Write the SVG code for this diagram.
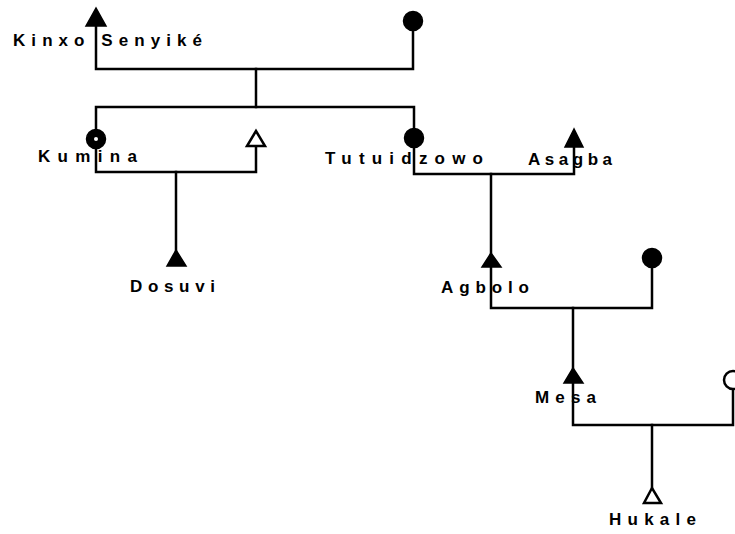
<svg xmlns="http://www.w3.org/2000/svg" width="735" height="534" viewBox="0 0 735 534">
<style>
.ln{fill:none;stroke:#000;stroke-width:2.5;stroke-linejoin:miter;stroke-linecap:square}
.f{fill:#000;stroke:#000;stroke-width:1.5}
.o{fill:#fff;stroke:#000;stroke-width:2.5}
.t{font-family:"Liberation Sans",Arial,sans-serif;font-weight:bold;font-size:17px;fill:#000}
</style>
<rect width="735" height="534" fill="#fff"/>
<g id="connectors">
<polyline class="ln" points="96,26 96,69 413,69 413,31"/>
<line class="ln" x1="256" y1="69" x2="256" y2="107"/>
<polyline class="ln" points="96,129 96,107 414,107 414,128"/>
<polyline class="ln" points="96,149 96,172 256,172 256,147"/>
<line class="ln" x1="176" y1="172" x2="176" y2="251"/>
<polyline class="ln" points="414,148 414,174 574,174 574,148"/>
<line class="ln" x1="491" y1="174" x2="491" y2="254"/>
<polyline class="ln" points="491,267 491,308 652,308 652,268"/>
<line class="ln" x1="573" y1="308" x2="573" y2="369"/>
<polyline class="ln" points="573,383 573,425 733,425 733,389"/>
<line class="ln" x1="652" y1="425" x2="652" y2="488"/>
</g>
<g id="kinxo">
<polygon class="f" points="96,8 86,26 106,26"/>
<text class="t" x="13" y="46" textLength="189" lengthAdjust="spacing">Kinxo Senyiké</text>
</g>
<g id="kinxo-wife">
<circle class="f" cx="413" cy="21" r="9.5"/>
</g>
<g id="kumina">
<circle class="f" cx="96" cy="139" r="9.5"/>
<circle cx="96" cy="139" r="2" fill="#fff"/>
<text class="t" x="38" y="162" textLength="99" lengthAdjust="spacing">Kumina</text>
</g>
<g id="kumina-husband">
<polygon class="o" points="256,131 247,146 265,146"/>
</g>
<g id="dosuvi">
<polygon class="f" points="176,250 167,266 186,266"/>
<text class="t" x="130" y="292" textLength="85" lengthAdjust="spacing">Dosuvi</text>
</g>
<g id="tutuidzowo">
<circle class="f" cx="414" cy="138" r="9.5"/>
<text class="t" x="325" y="164" textLength="158" lengthAdjust="spacing">Tutuidzowo</text>
</g>
<g id="asagba">
<polygon class="f" points="574,129 565,147 583,147"/>
<text class="t" x="528" y="165" textLength="84" lengthAdjust="spacing">Asagba</text>
</g>
<g id="agbolo">
<polygon class="f" points="491,253 482,267 501,267"/>
<text class="t" x="441" y="293" textLength="88" lengthAdjust="spacing">Agbolo</text>
</g>
<g id="agbolo-wife">
<circle class="f" cx="652" cy="258" r="9.5"/>
</g>
<g id="mesa">
<polygon class="f" points="573,368 564,383 583,383"/>
<text class="t" x="535" y="403" textLength="61" lengthAdjust="spacing">Mesa</text>
</g>
<g id="mesa-wife">
<circle class="o" cx="733" cy="380" r="9"/>
</g>
<g id="hukale">
<polygon class="o" points="652,488 644,503 661,503"/>
<text class="t" x="609" y="525" textLength="87" lengthAdjust="spacing">Hukale</text>
</g>
</svg>
